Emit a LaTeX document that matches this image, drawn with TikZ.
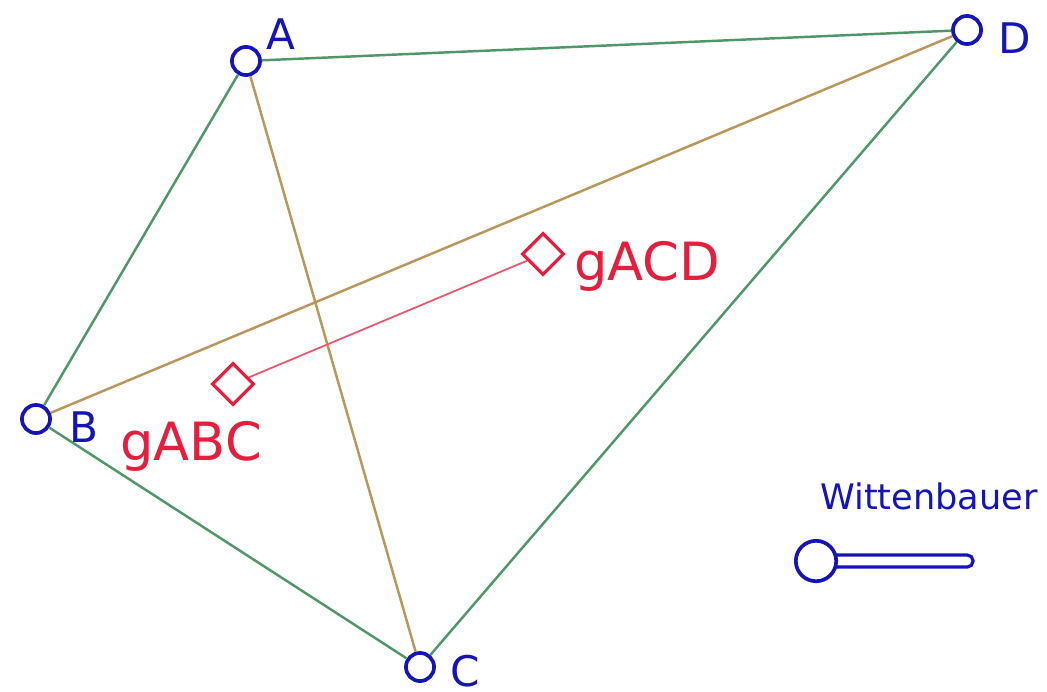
\documentclass[tikz,border=0pt]{standalone}
\usepackage{fontspec}
\setmainfont{DejaVu Sans}
\usepackage{tikz}
\usetikzlibrary{shapes.geometric,positioning}
\definecolor{ptblue}{RGB}{20,20,185}
\definecolor{edgegreen}{RGB}{80,150,105}
\definecolor{diagbrown}{RGB}{185,150,90}
\definecolor{cogred}{RGB}{228,30,60}

\begin{document}
\begin{tikzpicture}[x=0.02cm, y=-0.02cm,
  pt/.style={circle, draw=ptblue, fill=white, line width=2.1pt, minimum size=16pt, inner sep=0pt},
  ptlabel/.style={text=ptblue, font=\fontsize{24}{28}\selectfont, inner sep=0pt},
  cog/.style={diamond, draw=cogred, fill=white, line width=1.8pt, minimum size=24pt, inner sep=0pt},
  coglabel/.style={text=cogred, font=\fontsize{30}{36}\selectfont, inner sep=0pt},
  side/.style={draw=edgegreen, line width=1.4pt},
  diag/.style={draw=diagbrown, line width=1.4pt}]
\path[use as bounding box] (0,0) rectangle (1047,691);
\node[pt] (A) at (246,61) {};
\node[pt] (D) at (967,30) {};
\node[pt] (B) at (36,419) {};
\node[pt] (C) at (420,667) {};
\node[cog] (gABC) at (233,384) {};
\node[cog] (gACD) at (543,254) {};
\path[side] (A) -- (D) (A) -- (B) (B) -- (C) (C) -- (D);
\path[diag] (A) -- (C) (B) -- (D);
\draw[cogred!75, line width=1pt] (gABC) -- (gACD);
\node[ptlabel] (labA) at (281,34) {A};
\node[ptlabel] (labD) at (1015,38) {D};
\node[ptlabel] (labB) at (84,427) {B};
\node[ptlabel] (labC) at (465,671) {C};
\node[coglabel] (labACD) at (647,266) {gACD};
\node[coglabel] (labABC) at (191,446) {gABC};
% slider
\node[text=ptblue, font=\fontsize{20}{24}\selectfont, inner sep=0pt] (wlab) at (929,496) {Wittenbauer};
\draw[ptblue, line width=1.8pt, rounded corners=3.2pt] (830,555) rectangle (973,567);
\node[circle, draw=ptblue, fill=white, line width=2.1pt, minimum size=23pt, inner sep=0pt] (knob) at (816,561) {};
\end{tikzpicture}
\end{document}
